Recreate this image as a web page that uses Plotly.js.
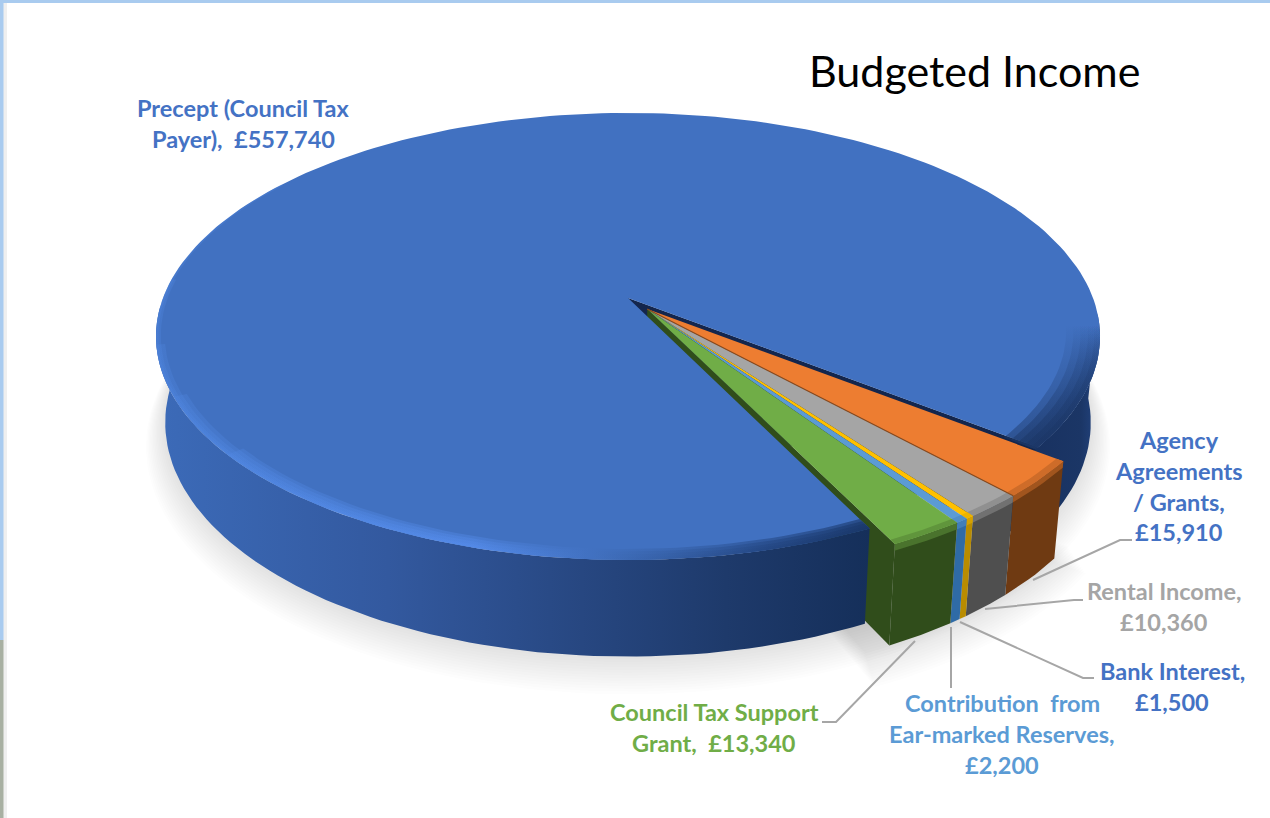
<!DOCTYPE html>
<html>
<head>
<meta charset="utf-8">
<script src="https://cdn.plot.ly/plotly-3.0.1.min.js"></script>
<style>html,body{margin:0;padding:0;background:#fff}#chart{width:1270px;height:818px}</style>
</head>
<body>
<div id="chart"></div>
<script>
// ---- data ----
const categories = ["Agency Agreements / Grants", "Rental Income", "Bank Interest", "Contribution from Ear-marked Reserves", "Council Tax Support Grant", "Precept (Council Tax Payer)"];
const values = [15910, 10360, 1500, 2200, 13340, 557740];
const topColors = ["#ed7d31", "#a5a5a5", "#ffc000", "#5b9bd5", "#70ad47", "#4171c1"];
const wallColors = ["#6f3a12", "#4f4f4f", "#b98c00", "#2f6ba6", "#304d1b", "#1b3666"];
const textColors = ["#4472c4", "#a5a5a5", "#4472c4", "#5b9bd5", "#70ad47", "#4472c4"];
const labelLines = [
  ["Agency", "Agreements", "/ Grants,", "£15,910"],
  ["Rental Income,", "£10,360"],
  ["Bank Interest,", "£1,500"],
  ["Contribution\u00a0 from", "Ear-marked Reserves,", "£2,200"],
  ["Council Tax Support", "Grant,\u00a0 £13,340"],
  ["Precept (Council Tax", "Payer),\u00a0 £557,740"]
];
const labelAnchors = [[1179, 440], [1164, 591], [1172, 671], [1002, 703], [714, 712], [243, 108]];
const leaders = [
  [[1033, 580], [1120, 540], [1132, 540]],
  [[985, 609], [1074, 600], [1083, 600]],
  [[960, 622], [1083, 678], [1094, 678]],
  [[951, 627], [951, 688]],
  [[915, 641], [836, 722], [822, 722]]
];
const chartTitle = "Budgeted Income";

// ---- projection of the tilted disc onto the axes ----
const X0 = 628, Y0 = 298, A = 465, B = 216.9, K = 0.172, M = 0.02, H = 86;
const START_DEG = 38, EXPLODE = 0.065, WEDGE_DEPTH = 1.06;
const total = values.reduce((a, b) => a + b, 0);
const rad = d => d * Math.PI / 180;
function P(u, v, z) {
  const w = (1 - K * v) * (1 + M * z);
  return [X0 + A * u / w, Y0 + (B * v + H * z) / w];
}
function arc(r, a0, a1, z, ox, oy) {
  const pts = [], n = Math.max(2, Math.ceil(Math.abs(a1 - a0) / 1.5));
  for (let i = 0; i <= n; i++) {
    const t = rad(a0 + (a1 - a0) * i / n);
    pts.push(P((ox || 0) + r * Math.cos(t), (oy || 0) + r * Math.sin(t), z));
  }
  return pts;
}
function mix(c1, c2, f) {
  const p = c => [1, 3, 5].map(i => parseInt(c.substr(i, 2), 16));
  const a = p(c1), b = p(c2);
  return "rgb(" + a.map((v, i) => Math.round(v + (b[i] - v) * f)).join(",") + ")";
}
const traces = [];
function poly(pts, color, grad) {
  const t = {x: pts.map(p => p[0]), y: pts.map(p => p[1]), mode: "lines", line: {width: 0, color: "rgba(0,0,0,0)"},
    fill: "toself", hoverinfo: "skip", showlegend: false, type: "scatter"};
  t.x.push(t.x[0]); t.y.push(t.y[0]);
  if (grad) t.fillgradient = {type: grad[3] || "horizontal", start: grad[0], stop: grad[1], colorscale: grad[2]};
  else t.fillcolor = color;
  traces.push(t);
}
function stroke(pts, color, width) {
  traces.push({x: pts.map(p => p[0]), y: pts.map(p => p[1]), mode: "lines", line: {width, color},
    hoverinfo: "skip", showlegend: false, type: "scatter"});
}
const band = (r0, r1, a0, a1, ox, oy) => arc(r1, a0, a1, 0, ox, oy).concat(arc(r0, a1, a0, 0, ox, oy));
const wall = (r, a0, a1, ox, oy, z0, z1) => arc(r, a0, a1, z0 || 0, ox, oy).concat(arc(r, a1, a0, z1 === undefined ? 1 : z1, ox, oy));

// slice angles from the values
const spans = values.map(v => v / total * 360);
const wedgeSpan = spans.slice(0, 5).reduce((a, b) => a + b, 0);
const END_DEG = START_DEG + wedgeSpan;
const MID = rad((START_DEG + END_DEG) / 2);
const ex = EXPLODE * Math.cos(MID), ey = EXPLODE * Math.sin(MID);
const cs = rad(START_DEG), ce = rad(END_DEG);

// soft shadow
for (let i = 14; i >= 1; i--) {
  const r = 1 + i * 0.0032, z = 1 + i * 0.017;
  poly(arc(r, 0, 360, z), "rgba(50,50,50,0.013)");
  poly(arc(r, START_DEG - 3, END_DEG + 3, z + 0.04, ex, ey).concat([P(ex, ey, z)]), "rgba(50,50,50,0.013)");
}

// main slice cut face seen over the wedge
poly([P(0, 0, 0), P(Math.cos(cs), Math.sin(cs), 0), P(Math.cos(cs), Math.sin(cs), 1), P(0, 0, 1)], "#14264d");
// cut face of the nearest wedge (behind the main slice)
poly([P(ex, ey, 0), P(ex + Math.cos(ce), ey + Math.sin(ce), 0),
      P(ex + Math.cos(ce), ey + Math.sin(ce), WEDGE_DEPTH), P(ex, ey, WEDGE_DEPTH)], wallColors[4]);

// main slice walls
poly(wall(1, END_DEG, 178), null, [150, 870, [[0, "#3c6bb9"], [0.33, "#33599f"], [0.6, "#274781"], [0.8, "#1e3a6b"], [1, "#152f5a"]]]);
poly(wall(1, 4, START_DEG + 1), null, [1030, 1098, [[0, "#183160"], [0.75, "#1b3666"], [1, "#234480"]]]);
// main slice top
poly([P(0, 0, 0)].concat(arc(1, END_DEG, START_DEG + 360, 0)), topColors[5]);

// bevel: nested translucent bands that taper out, so that the edge stays soft
const frontGlow = [[0, "rgba(80,135,225,0.28)"], [0.45, "rgba(85,140,235,0.38)"], [0.66, "rgba(60,105,180,0.45)"], [0.86, "rgba(35,70,130,0.55)"], [1, "rgba(25,55,105,0.65)"]];
[[0.965, 140], [0.973, 155], [0.982, 168], [0.99, 185], [0.995, 215]].forEach(b => poly(band(b[0], 1.0, END_DEG, b[1]), null, [150, 870, frontGlow]));
const rightFade = [[0, "rgba(27,54,102,0)"], [0.35, "rgba(27,54,102,0.18)"], [1, "rgba(27,54,102,0.5)"]];
[0.93, 0.945, 0.96, 0.975, 0.988].forEach(r => poly(band(r, 1.0, -6, START_DEG + 0.5), null, [325, 440, rightFade, "vertical"]));

// exploded wedges
let a = START_DEG;
for (let i = 0; i < 5; i++) {
  const b = a + spans[i];
  poly(wall(1, a, b, ex, ey, 0, WEDGE_DEPTH), wallColors[i]);
  poly(wall(1, a, b, ex, ey, 0, 0.07), mix(topColors[i], wallColors[i], 0.6));
  poly([P(ex, ey, 0)].concat(arc(1, a, b, 0, ex, ey)), topColors[i]);
  poly(band(0.985, 1.0, a, b, ex, ey), mix(topColors[i], wallColors[i], 0.25));
  a = b;
}
// darker seam between orange and grey
const seam = rad(START_DEG + spans[0]);
stroke([P(ex, ey, 0), P(ex + Math.cos(seam), ey + Math.sin(seam), 0)], "#8a4a1c", 1.2);

// leader lines
leaders.forEach(l => stroke(l, "#a6a6a6", 2));

// labels
const annotations = [];
labelLines.forEach((lines, i) => lines.forEach((txt, j) => annotations.push({
  x: labelAnchors[i][0], y: labelAnchors[i][1] + j * 30.8, xref: "x", yref: "y", text: txt, showarrow: false,
  xanchor: "center", yanchor: "middle", font: {family: "Lato", size: 23.5, color: textColors[i], weight: 700}
})));
annotations.push({x: 807, y: 70, xref: "x", yref: "y", text: chartTitle, showarrow: false, xanchor: "left", yanchor: "middle",
  font: {family: "Lato", size: 43, color: "#000"}});

const layout = {
  width: 1270, height: 818, margin: {l: 0, r: 0, t: 0, b: 0}, paper_bgcolor: "#fff", plot_bgcolor: "#fff",
  showlegend: false, hovermode: false,
  xaxis: {range: [0, 1270], visible: false, fixedrange: true},
  yaxis: {range: [818, 0], visible: false, fixedrange: true},
  annotations,
  shapes: [
    {type: "rect", xref: "x", yref: "y", x0: 3, x1: 7, y0: 3, y1: 818, fillcolor: "#efefef", line: {width: 0}},
    {type: "rect", xref: "x", yref: "y", x0: 0, x1: 1270, y0: 0, y1: 3, fillcolor: "#a9cbef", line: {width: 0}},
    {type: "rect", xref: "x", yref: "y", x0: 0, x1: 3.5, y0: 0, y1: 640, fillcolor: "#a9cbef", line: {width: 0}},
    {type: "rect", xref: "x", yref: "y", x0: 0, x1: 3.5, y0: 640, y1: 818, fillcolor: "#a8b0a2", line: {width: 0}}
  ]
};
Plotly.newPlot("chart", traces, layout, {displayModeBar: false, staticPlot: true});
</script>
</body>
</html>
